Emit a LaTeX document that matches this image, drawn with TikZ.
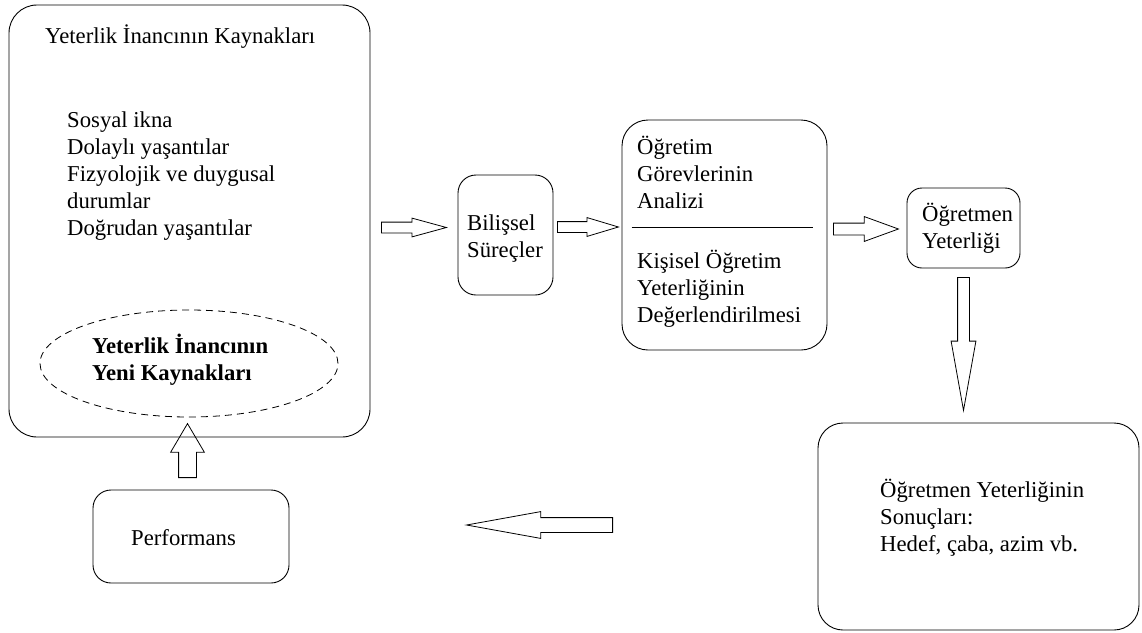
\documentclass[tikz,border=0pt]{standalone}
\usepackage{fontspec}
\setmainfont{Liberation Serif}
\usetikzlibrary{shapes.geometric,shapes.arrows}

\tikzset{
	txt/.style={anchor=base west, inner sep=0pt, align=left, font=\fontsize{22.7}{27}\selectfont},
	box/.style={draw, line width=0.9pt, inner sep=0pt, rounded corners=#1},
	blockarrow/.style n args={4}{single arrow, draw, line width=0.8pt, anchor=tail, inner xsep=0pt, minimum width=0pt, minimum height=#1, inner ysep=#2, single arrow head extend=#3, single arrow tip angle=#4}
}

\begin{document}
\begin{tikzpicture}[x=1pt,y=-1pt]
					\useasboundingbox (0,0) rectangle (1142,632);

					\node [box=28pt, minimum width=361pt, minimum height=432pt] (src) at (189.5,221) {};
					\node [txt] (srctitle) at (45,43) {Yeterlik İnancının Kaynakları};
					\node [txt] (srclist) at (67,235) {Sosyal ikna\\Dolaylı yaşantılar\\Fizyolojik ve duygusal\\durumlar\\Doğrudan yaşantılar};
					\node [draw, ellipse, line width=0.8pt, dash pattern=on 7pt off 5pt, minimum width=298pt, minimum height=107pt, inner sep=0pt] (newsrc) at (189,363.5) {};
					\node [txt, font=\fontsize{22.7}{27}\selectfont\bfseries] (newsrctext) at (92,380) {Yeterlik İnancının\\Yeni Kaynakları};

					\node [box=18pt, minimum width=95pt, minimum height=120pt] (bil) at (505.5,235) {};
					\node [txt] (biltext) at (467,257) {Bilişsel\\Süreçler};

					\node [box=26pt, minimum width=205pt, minimum height=230pt] (task) at (724.5,235) {};
					\node [txt] (tasktop) at (637,208) {Öğretim\\Görevlerinin\\Analizi};
					\node [txt] (taskbottom) at (637,322) {Kişisel Öğretim\\Yeterliğinin\\Değerlendirilmesi};
					\draw [line width=0.9pt] ([shift={(10pt,8pt)}]task.west) -- ([shift={(-14pt,8pt)}]task.east);

					\node [box=15pt, minimum width=113pt, minimum height=80pt] (tchr) at (963.5,228) {};
					\node [txt] (tchrtext) at (922,248) {Öğretmen\\Yeterliği};

					\node [box=25pt, minimum width=321pt, minimum height=207pt] (res) at (978.5,526.5) {};
					\node [txt] (restext) at (880,551) {Öğretmen Yeterliğinin\\Sonuçları:\\Hedef, çaba, azim vb.};

					\node [box=18pt, minimum width=196pt, minimum height=93pt] (perf) at (191,536.5) {};
					\node [txt] (perftext) at (131,545) {Performans};

					\node [blockarrow={65pt}{5pt}{4pt}{30.5}] (tobil) at (381,227.5) {};
					\node [blockarrow={61pt}{5pt}{4pt}{33.4}] (totask) at (557,227) {};
					\node [blockarrow={65pt}{5.5pt}{6.5pt}{40}] (totchr) at (833,229) {};
					\node [blockarrow={133pt}{5.5pt}{6.5pt}{20.3}, rotate=-90] (tores) at (963.5,277) {};
					\node [blockarrow={146pt}{7pt}{6pt}{20.5}, rotate=180] (back) at (613,525) {};
					\node [blockarrow={54pt}{8.5pt}{8pt}{61}, rotate=90] (tosrc) at (187.5,478) {};
				\end{tikzpicture}
\end{document}
